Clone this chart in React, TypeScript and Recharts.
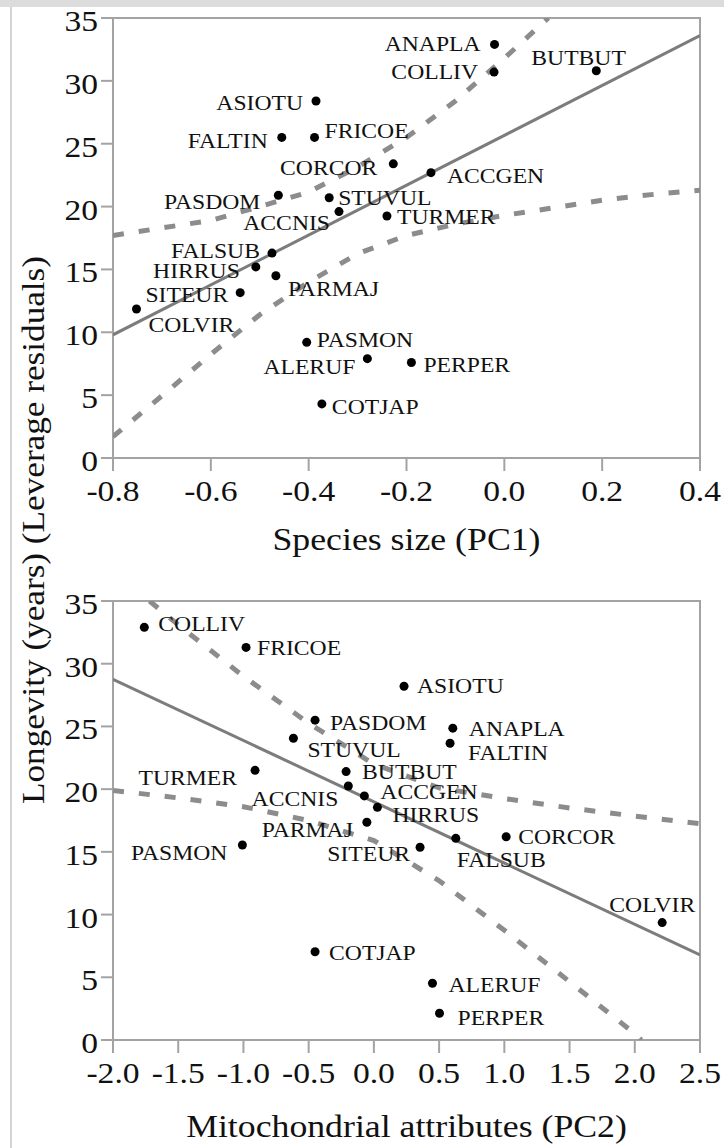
import React from 'react';
import { ScatterChart, Scatter, XAxis, YAxis, ReferenceArea } from 'recharts';

const FONT = '"Liberation Serif", "Times New Roman", serif';
const FRAME = '#a3a3a3';
const FIT = '#7c7c7c';
const BAND = '#8c8c8c';

// top panel: longevity residuals against species size (PC1)
const sizeNames = ['ANAPLA', 'COLLIV', 'BUTBUT', 'ASIOTU', 'FALTIN', 'FRICOE', 'CORCOR', 'ACCGEN', 'PASDOM', 'STUVUL', 'ACCNIS',
  'TURMER', 'FALSUB', 'HIRRUS', 'PARMAJ', 'SITEUR', 'COLVIR', 'PASMON', 'ALERUF', 'PERPER', 'COTJAP'];
const sizePC1 = [-0.02, -0.021, 0.188, -0.385, -0.455, -0.388, -0.227, -0.15, -0.462, -0.358, -0.338,
  -0.24, -0.475, -0.508, -0.467, -0.54, -0.752, -0.404, -0.28, -0.19, -0.373];
const sizeLongevity = [32.9, 30.7, 30.8, 28.4, 25.5, 25.5, 23.4, 22.7, 20.9, 20.7, 19.6,
  19.25, 16.3, 15.2, 14.5, 13.15, 11.85, 9.2, 7.9, 7.6, 4.3];
const sizeFit = [[-0.8, 9.8], [0.4, 33.6]];
const sizeUpper = [[-0.8, 17.7], [-0.7, 18.3], [-0.6, 18.9], [-0.5, 20.0], [-0.4, 21.15], [-0.3, 23.15],
  [-0.2, 25.5], [-0.1, 28.4], [0.0, 31.8], [0.09, 35]];
const sizeLower = [[-0.8, 1.7], [-0.7, 4.95], [-0.6, 8.25], [-0.5, 11.4], [-0.4, 14.0], [-0.3, 16.25],
  [-0.2, 17.7], [-0.1, 18.6], [0.0, 19.3], [0.1, 19.9], [0.2, 20.5], [0.3, 20.95], [0.4, 21.3]];
const pc1Ticks = [-0.8, -0.6, -0.4, -0.2, 0.0, 0.2, 0.4];

// bottom panel: longevity residuals against mitochondrial attributes (PC2)
const mitoNames = ['COLLIV', 'FRICOE', 'ASIOTU', 'PASDOM', 'STUVUL', 'ANAPLA', 'FALTIN', 'TURMER', 'BUTBUT', 'ACCNIS', 'ACCGEN',
  'HIRRUS', 'PARMAJ', 'CORCOR', 'FALSUB', 'SITEUR', 'PASMON', 'COLVIR', 'COTJAP', 'ALERUF', 'PERPER'];
const mitoPC2 = [-1.76, -0.98, 0.231, -0.451, -0.617, 0.605, 0.584, -0.911, -0.213, -0.196, -0.073,
  0.027, -0.054, 1.014, 0.628, 0.354, -1.008, 2.21, -0.451, 0.449, 0.503];
const mitoLongevity = [32.9, 31.3, 28.2, 25.5, 24.06, 24.86, 23.66, 21.5, 21.4, 20.25, 19.46,
  18.55, 17.36, 16.2, 16.08, 15.37, 15.55, 9.36, 7.04, 4.52, 2.13];
const mitoFit = [[-2.0, 28.76], [2.5, 6.78]];
const mitoUpper = [[-1.72, 35], [-1.5, 33.1], [-1.0, 29.0], [-0.5, 25.25], [0.0, 22.0], [0.5, 20.1],
  [1.0, 19.25], [1.5, 18.5], [2.0, 17.85], [2.5, 17.25]];
const mitoLower = [[-2.0, 19.9], [-1.5, 19.3], [-1.0, 18.6], [-0.5, 17.5], [0.0, 15.9], [0.5, 12.7],
  [1.0, 8.75], [1.5, 4.65], [2.0, 0.5], [2.05, 0]];
const pc2Ticks = [-2.0, -1.5, -1.0, -0.5, 0.0, 0.5, 1.0, 1.5, 2.0, 2.5];

const longevityTicks = [0, 5, 10, 15, 20, 25, 30, 35];

// label placement next to each dot: [anchor, dx, dy]
const sizeLabelPos: Record<string, [string, number, number]> = {
  ANAPLA: ['end', -14, 7], COLLIV: ['end', -16, 7], BUTBUT: ['start', -65, -6], ASIOTU: ['end', -13, 9],
  FALTIN: ['end', -14, 11], FRICOE: ['start', 10, 1], CORCOR: ['end', -16, 11], ACCGEN: ['start', 16, 10],
  PASDOM: ['end', -18, 14], STUVUL: ['start', 9, 7], ACCNIS: ['end', -9, 18], TURMER: ['start', 10, 8],
  FALSUB: ['end', -12, 5], HIRRUS: ['end', -16, 11], PARMAJ: ['start', 12, 20], SITEUR: ['end', -12, 9],
  COLVIR: ['start', 12, 23], PASMON: ['start', 10, 5], ALERUF: ['end', -12, 15], PERPER: ['start', 12, 10],
  COTJAP: ['start', 10, 10],
};
const mitoLabelPos: Record<string, [string, number, number]> = {
  COLLIV: ['start', 14, 4], FRICOE: ['start', 11, 8], ASIOTU: ['start', 13, 7], PASDOM: ['start', 15, 10],
  STUVUL: ['start', 14, 19], ANAPLA: ['start', 16, 8], FALTIN: ['start', 18, 17], TURMER: ['end', -18, 15],
  BUTBUT: ['start', 16, 7], ACCNIS: ['end', -10, 20], ACCGEN: ['start', 16, 3], HIRRUS: ['start', 15, 15],
  PARMAJ: ['end', -14, 15], CORCOR: ['start', 12, 7], FALSUB: ['start', 1, 29], SITEUR: ['end', -10, 14],
  PASMON: ['end', -15, 15], COLVIR: ['end', 33, -11], COTJAP: ['start', 14, 8], ALERUF: ['start', 16, 9],
  PERPER: ['start', 18, 12],
};

const toPoints = (names: string[], xs: number[], ys: number[]) =>
  names.map((name, i) => ({ name, x: xs[i], y: ys[i] }));
const toLine = (pairs: number[][]) => pairs.map(([x, y]) => ({ x, y }));

const SText = ({ x, y, anchor = 'start', size, stretch = 1.1, rotate = 0, children }: any) => (
  <text
    transform={`translate(${x},${y}) rotate(${rotate}) scale(${stretch},1)`}
    textAnchor={anchor}
    fontSize={size}
    fontFamily={FONT}
    fill="#111"
  >
    {children}
  </text>
);

const XTick = (props: any) => (
  <SText x={props.x} y={props.y + 28} anchor="middle" size={30} stretch={1.12}>
    {Number(props.payload.value).toFixed(1)}
  </SText>
);

const YTick = (props: any) => (
  <SText x={props.x} y={props.y + 13} anchor="end" size={30} stretch={1.12}>
    {props.payload.value}
  </SText>
);

const makeDot = (place: Record<string, [string, number, number]>) => (props: any) => {
  const { cx, cy, payload } = props;
  const [anchor, dx, dy] = place[payload.name];
  return (
    <g>
      <circle cx={cx} cy={cy} r={4.5} fill="#000" />
      <SText x={cx + dx} y={cy + dy} anchor={anchor} size={21.5} stretch={1.1}>{payload.name}</SText>
    </g>
  );
};

const noShape = () => <g />;

const Panel = ({ top, height, bottom, domain, ticks, points, fit, upper, lower, place }: any) => (
  <div style={{ position: 'absolute', left: 0, top }}>
    <ScatterChart width={724} height={height} margin={{ top: 18, right: 24, bottom, left: 53 }}>
      <XAxis
        type="number"
        dataKey="x"
        domain={domain}
        ticks={ticks}
        allowDataOverflow
        height={60}
        tickSize={13}
        tickMargin={2}
        tick={XTick}
        axisLine={{ stroke: FRAME, strokeWidth: 2 }}
        tickLine={{ stroke: FRAME, strokeWidth: 2 }}
      />
      <YAxis
        type="number"
        dataKey="y"
        domain={[0, 35]}
        ticks={longevityTicks}
        allowDataOverflow
        width={60}
        tickSize={12}
        tickMargin={3}
        tick={YTick}
        axisLine={{ stroke: FRAME, strokeWidth: 2 }}
        tickLine={{ stroke: FRAME, strokeWidth: 2 }}
      />
      <ReferenceArea x1={domain[0]} x2={domain[1]} y1={0} y2={35} fill="none" stroke={FRAME} strokeWidth={2} />
      <Scatter data={toLine(upper)} shape={noShape} line={{ stroke: BAND, strokeWidth: 5, strokeDasharray: '11 15' }} isAnimationActive={false} />
      <Scatter data={toLine(lower)} shape={noShape} line={{ stroke: BAND, strokeWidth: 5, strokeDasharray: '11 15' }} isAnimationActive={false} />
      <Scatter data={toLine(fit)} shape={noShape} line={{ stroke: FIT, strokeWidth: 3 }} isAnimationActive={false} />
      <Scatter data={points} shape={makeDot(place)} isAnimationActive={false} />
    </ScatterChart>
  </div>
);

export default function App() {
  return (
    <div style={{ position: 'absolute', left: 0, top: 0, width: 724, height: 1148, background: '#fff', overflow: 'hidden' }}>
      <Panel
        top={0}
        height={560}
        bottom={42}
        domain={[-0.8, 0.4]}
        ticks={pc1Ticks}
        points={toPoints(sizeNames, sizePC1, sizeLongevity)}
        fit={sizeFit}
        upper={sizeUpper}
        lower={sizeLower}
        place={sizeLabelPos}
      />
      <Panel
        top={583}
        height={565}
        bottom={48}
        domain={[-2.0, 2.5]}
        ticks={pc2Ticks}
        points={toPoints(mitoNames, mitoPC2, mitoLongevity)}
        fit={mitoFit}
        upper={mitoUpper}
        lower={mitoLower}
        place={mitoLabelPos}
      />
      <svg width={724} height={1148} style={{ position: 'absolute', left: 0, top: 0, pointerEvents: 'none' }}>
        <rect x={0} y={0} width={724} height={7} fill="#dcdcdc" />
        <rect x={10} y={7} width={2} height={1141} fill="#d4d4d4" />
        <SText x={44} y={530} anchor="middle" size={32} stretch={1.1} rotate={-90}>
          Longevity (years) (Leverage residuals)
        </SText>
        <SText x={406.5} y={550} anchor="middle" size={32.5} stretch={1.1}>Species size (PC1)</SText>
        <SText x={406.5} y={1137} anchor="middle" size={32.5} stretch={1.1}>Mitochondrial attributes (PC2)</SText>
      </svg>
    </div>
  );
}
